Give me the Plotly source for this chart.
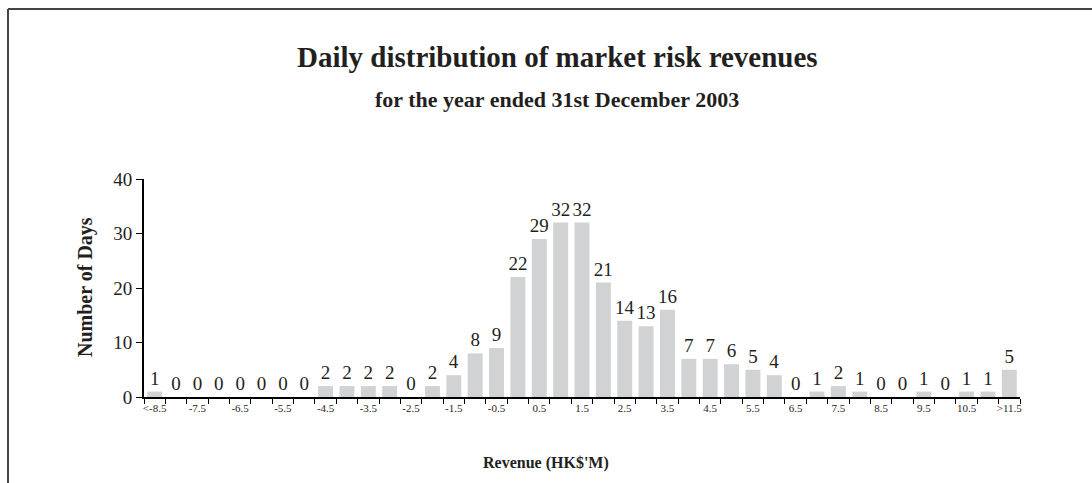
import plotly.graph_objects as go

# ---- data ----
bins = ["<-8.5", "-8.0", "-7.5", "-7.0", "-6.5", "-6.0", "-5.5", "-5.0", "-4.5", "-4.0",
        "-3.5", "-3.0", "-2.5", "-2.0", "-1.5", "-1.0", "-0.5", "0.0", "0.5", "1.0",
        "1.5", "2.0", "2.5", "3.0", "3.5", "4.0", "4.5", "5.0", "5.5", "6.0",
        "6.5", "7.0", "7.5", "8.0", "8.5", "9.0", "9.5", "10.0", "10.5", "11.0", ">11.5"]
days = [1, 0, 0, 0, 0, 0, 0, 0, 2, 2,
        2, 2, 0, 2, 4, 8, 9, 22, 29, 32,
        32, 21, 14, 13, 16, 7, 7, 6, 5, 4,
        0, 1, 2, 1, 0, 0, 1, 0, 1, 1, 5]
tick_text = [b if i % 2 == 0 else "" for i, b in enumerate(bins)]
y_ticks = [0, 10, 20, 30, 40]

title = "Daily distribution of market risk revenues"
subtitle = "for the year ended 31st December 2003"
x_title = "Revenue (HK$'M)"
y_title = "Number of Days"

SERIF = "Liberation Serif, Times New Roman, serif"
INK = "#231F20"

W, H = 1092, 483
L, R, T, B = 144, 72, 179, 86
pw, ph = W - L - R, H - T - B

def px_x(x):
    return (x - L) / pw

def px_y(y):
    return (H - B - y) / ph

fig = go.Figure(go.Bar(
    x=bins, y=days,
    marker=dict(color="#D1D2D4", line=dict(width=0)),
    text=[str(v) for v in days],
    textposition="outside",
    constraintext="none",
    textfont=dict(family=SERIF, size=19, color=INK),
    cliponaxis=False,
    hoverinfo="x+y",
))

fig.update_layout(
    width=W, height=H,
    margin=dict(l=L, r=R, t=T, b=B),
    paper_bgcolor="white", plot_bgcolor="white",
    bargap=0.3,
    showlegend=False,
    uniformtext=dict(mode=False),
    font=dict(family=SERIF, color=INK),
    xaxis=dict(
        type="category",
        tickmode="array", tickvals=bins, ticktext=tick_text,
        tickson="boundaries", tickangle=0,
        ticks="outside", ticklen=5, tickwidth=1, tickcolor="black",
        tickfont=dict(family=SERIF, size=11, color=INK),
        showline=True, linecolor="black", linewidth=2,
        showgrid=False, zeroline=False,
        range=[-0.5, len(bins) - 0.5],
    ),
    yaxis=dict(
        range=[0, 40],
        tickmode="array", tickvals=y_ticks,
        ticks="outside", ticklen=6, tickwidth=1, tickcolor="black",
        tickfont=dict(family=SERIF, size=19, color=INK),
        showline=True, linecolor="black", linewidth=2,
        showgrid=False, zeroline=False,
    ),
    annotations=[
        dict(text=f"<b>{title}</b>", xref="paper", yref="paper",
             x=px_x(557), y=px_y(57), xanchor="center", yanchor="middle",
             showarrow=False, font=dict(family=SERIF, size=29, color=INK)),
        dict(text=f"<b>{subtitle}</b>", xref="paper", yref="paper",
             x=px_x(557), y=px_y(99), xanchor="center", yanchor="middle",
             showarrow=False, font=dict(family=SERIF, size=22, color=INK)),
        dict(text=f"<b>{x_title}</b>", xref="paper", yref="paper",
             x=px_x(546), y=px_y(463), xanchor="center", yanchor="middle",
             showarrow=False, font=dict(family=SERIF, size=16, color=INK)),
        dict(text=f"<b>{y_title}</b>", xref="paper", yref="paper",
             x=px_x(85), y=px_y(287), xanchor="center", yanchor="middle",
             textangle=-90,
             showarrow=False, font=dict(family=SERIF, size=20, color=INK)),
    ],
    shapes=[
        dict(type="line", xref="paper", yref="paper",
             x0=px_x(8), x1=px_x(W + 5), y0=px_y(9), y1=px_y(9),
             line=dict(color="#444444", width=2)),
        dict(type="line", xref="paper", yref="paper",
             x0=px_x(8), x1=px_x(8), y0=px_y(9), y1=px_y(H + 5),
             line=dict(color="#444444", width=2)),
    ],
)

fig.write_html("out.html", config={"displayModeBar": False},
               post_script="document.body.style.margin='0';document.body.style.overflow='hidden';")
